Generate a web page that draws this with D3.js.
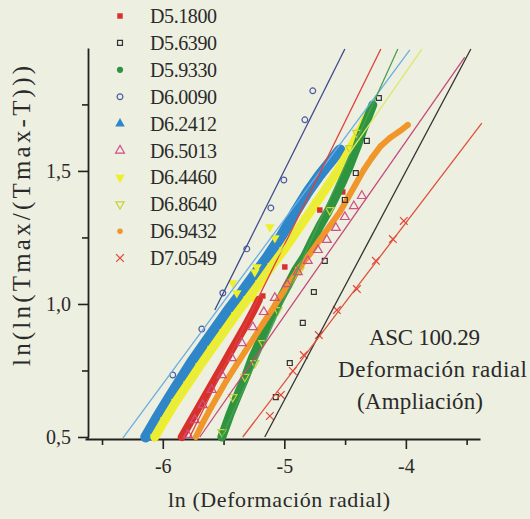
<!DOCTYPE html>
<html>
<head>
<meta charset="utf-8">
<script src="https://cdn.jsdelivr.net/npm/d3@7"></script>
<style>
body { margin:0; background:#edefe0; }
svg { display:block; }
text { font-family:"Liberation Serif","Times New Roman",serif; fill:#2a2a2a; }
</style>
</head>
<body>
<svg id="svg"></svg>
<script>
// series in legend order
var nombres = ["D5.1800","D5.6390","D5.9330","D6.0090","D6.2412","D6.5013","D6.4460","D6.8640","D6.9432","D7.0549"];

// points [ln(def), ln(ln(Tmax/(Tmax-T)))]
var sD51800 = [[-5.844,0.500],[-5.778,0.553],[-5.712,0.605],[-5.646,0.658],[-5.580,0.711],[-5.514,0.763],
	[-5.449,0.816],[-5.383,0.868],[-5.317,0.921],[-5.259,0.970],[-5.210,1.015]];
var sD51800b = [[-5.177,1.030],[-4.996,1.139],[-4.708,1.353],[-4.568,1.413],[-4.519,1.421]];
var sD56390 = [[-5.070,0.650],[-4.955,0.778],[-4.848,0.929],[-4.757,1.045],[-4.667,1.162],[-4.502,1.391],
	[-4.412,1.492],[-4.321,1.613],[-4.222,1.774]];
var sD59330 = [[-5.514,0.500],[-5.449,0.583],[-5.383,0.658],[-5.317,0.729],[-5.259,0.801],[-5.202,0.857],
	[-5.152,0.910],[-5.103,0.959],[-5.037,1.015],[-4.971,1.071],[-4.905,1.128],[-4.831,1.180],[-4.766,1.241],
	[-4.708,1.293],[-4.642,1.346],[-4.576,1.406],[-4.519,1.462],[-4.461,1.522],[-4.403,1.590],[-4.354,1.654],
	[-4.305,1.710],[-4.272,1.748]];
var sD60090 = [[-5.918,0.733],[-5.679,0.906],[-5.506,1.041],[-5.309,1.207],[-5.111,1.361],[-5.004,1.466],
	[-4.831,1.692],[-4.766,1.801]];
var sD62412 = [[-6.140,0.500],[-6.049,0.571],[-5.959,0.639],[-5.860,0.711],[-5.761,0.782],[-5.663,0.846],
	[-5.564,0.910],[-5.465,0.974],[-5.358,1.038],[-5.251,1.105],[-5.144,1.173],[-5.029,1.252],[-4.914,1.342],
	[-4.807,1.421],[-4.708,1.485],[-4.617,1.537],[-4.543,1.579]];
var sD65013 = [[-5.794,0.508],[-5.737,0.564],[-5.671,0.620],[-5.597,0.677],[-5.514,0.733],[-5.432,0.797],
	[-5.350,0.853],[-5.259,0.913],[-5.169,0.970],[-5.078,1.023],[-4.979,1.075],[-4.889,1.120],[-4.807,1.162],
	[-4.724,1.203],[-4.650,1.241],[-4.576,1.286],[-4.502,1.327],[-4.428,1.368],[-4.362,1.406]];
var sD64460 = [[-6.066,0.500],[-5.984,0.564],[-5.893,0.632],[-5.794,0.699],[-5.695,0.767],[-5.597,0.831],
	[-5.498,0.895],[-5.399,0.959],[-5.300,1.019],[-5.202,1.079],[-5.103,1.143],[-5.004,1.203],[-4.914,1.263],
	[-4.823,1.323],[-4.733,1.383],[-4.642,1.444],[-4.551,1.507],[-4.461,1.579],[-4.379,1.650],[-4.313,1.710]];
var sD64460b = [[-5.424,1.079],[-5.259,1.026],[-5.226,1.139],[-5.119,1.289],[-5.078,1.248],[-5.243,1.120],[-5.391,1.041]];
var sD68640 = [[-5.514,0.519],[-5.424,0.650],[-5.325,0.726],[-5.243,0.778],[-5.177,0.853],[-5.053,0.977],
	[-4.872,1.128],[-4.626,1.353],[-4.461,1.586],[-4.403,1.643]];
var sD69432 = [[-5.728,0.500],[-5.671,0.553],[-5.605,0.609],[-5.539,0.662],[-5.473,0.714],[-5.399,0.767],
	[-5.325,0.820],[-5.251,0.872],[-5.177,0.925],[-5.103,0.977],[-5.029,1.030],[-4.947,1.086],[-4.872,1.139],
	[-4.790,1.188],[-4.708,1.241],[-4.626,1.293],[-4.543,1.346],[-4.477,1.398],[-4.412,1.451],[-4.346,1.504],
	[-4.280,1.549],[-4.206,1.594],[-4.132,1.624],[-4.049,1.650],[-3.984,1.673]];
var sD70549 = [[-5.119,0.579],[-5.029,0.658],[-4.930,0.748],[-4.840,0.808],[-4.716,0.883],[-4.568,0.977],
	[-4.403,1.056],[-4.247,1.162],[-4.107,1.244],[-4.017,1.312]];

// fitted straight lines, end points
var aD60090 = [[-5.572,0.977],[-4.502,1.958]];
var aD62412 = [[-6.329,0.496],[-3.967,1.955]];
var aD51800 = [[-5.778,0.500],[-4.206,1.958]];
var aD59330 = [[-5.514,0.500],[-4.066,1.958]];
var aD64460 = [[-6.091,0.500],[-3.868,1.958]];
var aD56390 = [[-5.161,0.500],[-3.465,1.958]];
var aD65013 = [[-5.695,0.500],[-3.515,1.928]];
var aD70549 = [[-5.342,0.500],[-3.375,1.680]];

var xTicks = [-6,-5,-4],
	xMinor = [-6.5,-5.5,-4.5,-3.5],
	yTicks = [0.5,1.0,1.5],
	yMinor = [0.75,1.25,1.75];

var width = 530,
	height = 519;

var svg = d3.select("#svg")
	.attr("width", width)
	.attr("height", height);

var x = d3.scaleLinear().domain([-6.64,-3.39]).range([85,480]),
	y = d3.scaleLinear().domain([0.5,1.962]).range([437,48]);

var fmt = function(d){ return d3.format(".1f")(d).replace(".", ","); };

// axes
var xAxis = svg.append("g")
	.attr("transform", "translate(0,439)")
	.call(d3.axisBottom(x).tickValues(xTicks).tickSize(10).tickSizeOuter(0).tickFormat(d3.format("d")));
var xMin = svg.append("g")
	.attr("transform", "translate(0,439)")
	.call(d3.axisBottom(x).tickValues(xMinor).tickSize(6).tickFormat(""));
xMin.select(".domain").remove();

var yAxis = svg.append("g")
	.attr("transform", "translate(88,0)")
	.call(d3.axisLeft(y).tickValues(yTicks).tickSize(10).tickSizeOuter(0).tickFormat(fmt));
var yMin = svg.append("g")
	.attr("transform", "translate(88,0)")
	.call(d3.axisLeft(y).tickValues(yMinor).tickSize(6).tickFormat(""));
yMin.select(".domain").remove();

svg.selectAll(".domain").attr("stroke", "#222").attr("stroke-width", 1.8);
svg.selectAll(".tick line").attr("stroke", "#222").attr("stroke-width", 1.6);
svg.selectAll(".tick text").attr("fill", "#2a2a2a")
	.style("font-family", "'Liberation Serif',serif").style("font-size", "20px");
xAxis.selectAll(".tick text").attr("dy", "1.05em").text(function(d){ return d; });
yAxis.selectAll(".tick text").attr("dx", "-4");
// close the corner
svg.append("line").attr("x1", 88).attr("x2", 88).attr("y1", y(0.5)).attr("y2", 440)
	.attr("stroke", "#222").attr("stroke-width", 1.8);

// titles
svg.append("text")
	.attr("x", 168).attr("y", 507)
	.attr("textLength", 222)
	.attr("lengthAdjust", "spacing")
	.style("font-size", "22px")
	.text("ln (Deformación radial)");
svg.append("text")
	.attr("transform", "translate(30,366) rotate(-90)")
	.attr("textLength", 300)
	.attr("lengthAdjust", "spacing")
	.style("font-size", "25px")
	.text("ln(ln(Tmax/(Tmax-T)))");

var notas = ["ASC 100.29","Deformación radial","(Ampliación)"],
	notasX = [369,338,357],
	notasL = [111,189,126];
svg.selectAll("text.nota")
	.data(notas)
	.enter()
	.append("text")
	.attr("class", "nota")
	.attr("x", function(d,i){ return notasX[i]; })
	.attr("y", function(d,i){ return 345 + i*32; })
	.attr("textLength", function(d,i){ return notasL[i]; })
	.attr("lengthAdjust", "spacing")
	.style("font-size", "23px")
	.text(function(d){ return d; });

var plot = svg.append("g");
var line = d3.line().x(function(d){ return x(d[0]); }).y(function(d){ return y(d[1]); });

function band(data, color, w){
	plot.append("path")
		.datum(data)
		.attr("d", line)
		.attr("fill", "none")
		.attr("stroke", color)
		.attr("stroke-width", w)
		.attr("stroke-linejoin", "round")
		.attr("stroke-linecap", "round");
}

var timesSym = d3.symbolTimes || d3.symbolX || d3.symbolCross;

// style of each series: symbol, size, fill, stroke, rotation
var estilos = {
	"D5.1800": {sym: d3.symbolSquare, size: 30, fill: "#d8312b", stroke: "none", rot: 0},
	"D5.6390": {sym: d3.symbolSquare, size: 24, fill: "none", stroke: "#333", rot: 0},
	"D5.9330": {sym: d3.symbolCircle, size: 30, fill: "#2e9440", stroke: "none", rot: 0},
	"D6.0090": {sym: d3.symbolCircle, size: 26, fill: "none", stroke: "#4a5aa0", rot: 0},
	"D6.2412": {sym: d3.symbolTriangle, size: 40, fill: "#2f86c8", stroke: "none", rot: 0},
	"D6.5013": {sym: d3.symbolTriangle, size: 34, fill: "none", stroke: "#cf4f86", rot: 0},
	"D6.4460": {sym: d3.symbolTriangle, size: 40, fill: "#eeee2a", stroke: "none", rot: 180},
	"D6.8640": {sym: d3.symbolTriangle, size: 30, fill: "none", stroke: "#c8d23c", rot: 180},
	"D6.9432": {sym: d3.symbolCircle, size: 24, fill: "#f0962a", stroke: "none", rot: 0},
	"D7.0549": {sym: timesSym, size: 40, fill: "none", stroke: "#e0483c", rot: 0}
};

function marks(data, name){
	var e = estilos[name];
	var filled = e.fill != "none";
	plot.append("g").selectAll("path")
		.data(data)
		.enter()
		.append("path")
		.attr("d", d3.symbol().type(e.sym).size(e.size))
		.attr("transform", function(d){
			return "translate(" + x(d[0]) + "," + y(d[1]) + ") rotate(" + e.rot + ")";
		})
		.attr("fill", e.fill)
		.attr("stroke", filled ? "none" : e.stroke)
		.attr("stroke-width", 1.2);
}

// dense series as thick bands with their markers
band(sD62412, "#2f86c8", 11);
marks(sD62412, "D6.2412");
band(sD64460, "#eeee2a", 9);
marks(sD64460, "D6.4460");
marks(sD64460b, "D6.4460");
band(sD51800, "#d8312b", 8);
marks(sD51800, "D5.1800");
marks(sD51800b, "D5.1800");
band(sD59330, "#2e9440", 9);
marks(sD59330, "D5.9330");
marks(sD68640, "D6.8640");
band(sD69432, "#f0962a", 6);
marks(sD69432, "D6.9432");
marks(sD65013, "D6.5013");
marks(sD60090, "D6.0090");
marks(sD56390, "D5.6390");
marks(sD70549, "D7.0549");

// fitted lines
var ajustes = [
	{d: aD60090, c: "#3b4a8c"},
	{d: aD62412, c: "#6aaee0"},
	{d: aD51800, c: "#e0403a"},
	{d: aD59330, c: "#4aa050"},
	{d: aD64460, c: "#dde86a"},
	{d: aD56390, c: "#333333"},
	{d: aD65013, c: "#c64a7a"},
	{d: aD70549, c: "#e0503c"}
];
plot.selectAll("path.ajuste")
	.data(ajustes)
	.enter()
	.append("path")
	.attr("class", "ajuste")
	.attr("d", function(d){ return line(d.d); })
	.attr("fill", "none")
	.attr("stroke", function(d){ return d.c; })
	.attr("stroke-width", 1.3);

// legend
var leyenda = svg.append("g");
nombres.forEach(function(n, i){
	var e = estilos[n];
	var ly = 16 + i*26.9;
	leyenda.append("path")
		.attr("d", d3.symbol().type(e.sym).size(e.size))
		.attr("transform", "translate(120," + ly + ") rotate(" + e.rot + ")")
		.attr("fill", e.fill)
		.attr("stroke", e.fill != "none" ? "none" : e.stroke)
		.attr("stroke-width", 1.2);
	leyenda.append("text")
		.attr("x", 150).attr("y", ly)
		.attr("dy", "0.35em")
		.attr("textLength", 67)
		.attr("lengthAdjust", "spacing")
		.style("font-size", "20px")
		.text(n);
});
</script>
</body>
</html>
